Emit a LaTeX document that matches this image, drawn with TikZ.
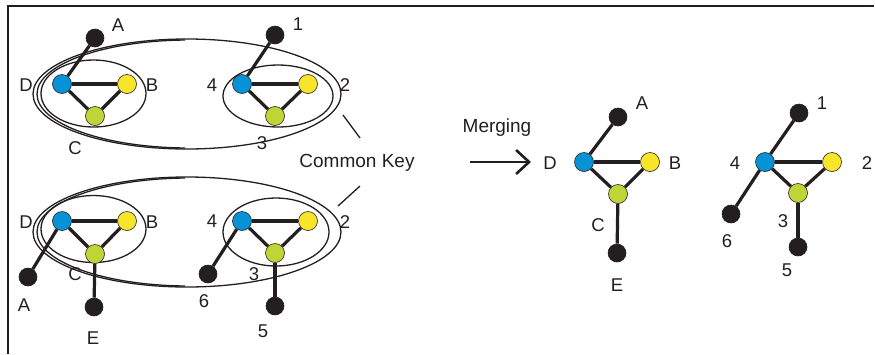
\documentclass[tikz,border=0pt]{standalone}
\usepackage{fontspec}
\setmainfont{Liberation Sans}
\usetikzlibrary{arrows.meta}
\definecolor{vblue}{HTML}{0892D6}
\definecolor{vyellow}{HTML}{F7E52B}
\definecolor{vgreen}{HTML}{BDD536}
\definecolor{vdark}{HTML}{231F20}
\tikzset{
  vtx/.style={circle, draw=vdark, line width=0.6pt, inner sep=0pt, minimum size=19pt},
  bv/.style={vtx, fill=vblue},
  yv/.style={vtx, fill=vyellow},
  gv/.style={vtx, fill=vgreen},
  kv/.style={vtx, fill=vdark, minimum size=18pt},
  edge/.style={draw=vdark, line width=3.2pt},
  ring/.style={draw=vdark, line width=1.3pt},
  lbl/.style={font=\fontsize{18.5}{18.5}\selectfont, text=vdark, inner sep=0pt},
  word/.style={font=\fontsize{19}{19}\selectfont, text=vdark, inner sep=0pt},
  leader/.style={draw=vdark, line width=1.3pt}
}
\begin{document}
\begin{tikzpicture}[x=1pt,y=-1pt]
\useasboundingbox (0,0) rectangle (875,354);
% frame
\draw[vdark, line width=1.5pt] (8,354) -- (8,6) -- (874,6);

% ---------- upper pair of groups ----------
\draw[ring] (187,94) ellipse [x radius=154pt, y radius=55pt];
\begin{scope}
  \clip (0,0) rectangle (185,354);
  \draw[ring] (189,94) ellipse [x radius=152pt, y radius=54pt];
\end{scope}
\draw[ring] (93.5,93.5) ellipse [x radius=52.5pt, y radius=33.5pt];
\draw[ring] (278,96) ellipse [x radius=55pt, y radius=31pt];

\node[bv] (uD) at (62,84) {};
\node[yv] (uB) at (127,84) {};
\node[gv] (uC) at (95,116) {};
\node[kv] (uA) at (95,38) {};
\draw[edge] (uD) -- (uA);
\draw[edge] (uD) -- (uB);
\draw[edge] (uD) -- (uC);
\draw[edge] (uB) -- (uC);
\node[lbl] (luA) at (118,25) {A};
\node[lbl] (luD) at (26,85) {D};
\node[lbl] (luB) at (152,85) {B};
\node[lbl] (luC) at (75,148) {C};

\node[bv] (u4) at (242,84) {};
\node[yv] (u2) at (308,84) {};
\node[gv] (u3) at (275,116) {};
\node[kv] (u1) at (275,35) {};
\draw[edge] (u4) -- (u1);
\draw[edge] (u4) -- (u2);
\draw[edge] (u4) -- (u3);
\draw[edge] (u2) -- (u3);
\node[lbl] (lu1) at (298,24) {1};
\node[lbl] (lu4) at (212,85) {4};
\node[lbl] (lu2) at (345,85) {2};
\node[lbl] (lu3) at (262,143) {3};

% ---------- lower pair of groups ----------
\draw[ring] (187,232) ellipse [x radius=154pt, y radius=55pt];
\begin{scope}
  \clip (0,0) rectangle (185,354);
  \draw[ring] (189,232) ellipse [x radius=152pt, y radius=54pt];
\end{scope}
\draw[ring] (93.5,229) ellipse [x radius=52.5pt, y radius=33.5pt];
\draw[ring] (276,232) ellipse [x radius=53pt, y radius=34pt];

\node[bv] (dD) at (62,221) {};
\node[yv] (dB) at (127,221) {};
\node[gv] (dC) at (95,254) {};
\node[kv] (dA) at (28,277) {};
\node[kv] (dE) at (94,307) {};
\draw[edge] (dD) -- (dA);
\draw[edge] (dD) -- (dB);
\draw[edge] (dD) -- (dC);
\draw[edge] (dB) -- (dC);
\draw[edge] (dC) -- (dE);
\node[lbl] (ldD) at (26,222) {D};
\node[lbl] (ldB) at (152,222) {B};
\node[lbl] (ldC) at (75,274) {C};
\node[lbl] (ldA) at (24,305) {A};
\node[lbl] (ldE) at (93,338) {E};

\node[bv] (d4) at (242,221) {};
\node[yv] (d2) at (308,221) {};
\node[gv] (d3) at (275,253) {};
\node[kv] (d6) at (208,274) {};
\node[kv] (d5) at (275,306) {};
\draw[edge] (d4) -- (d6);
\draw[edge] (d4) -- (d2);
\draw[edge] (d4) -- (d3);
\draw[edge] (d2) -- (d3);
\draw[edge] (d3) -- (d5);
\node[lbl] (ld4) at (212,221) {4};
\node[lbl] (ld2) at (345,222) {2};
\node[lbl] (ld3) at (254,274) {3};
\node[lbl] (ld6) at (204,301) {6};
\node[lbl] (ld5) at (263,331) {5};

% ---------- common key callout ----------
\node[word] (key) at (357,163) {Common Key};
\coordinate (kt1) at (343,115);
\coordinate (kt2) at (360,138);
\coordinate (kb1) at (338,206);
\coordinate (kb2) at (360,186);
\draw[leader] (kt1) -- (kt2);
\draw[leader] (kb1) -- (kb2);

% ---------- merging arrow ----------
\node[word] (merge) at (497,128) {Merging};
\coordinate (ar0) at (470,162);
\coordinate (ar1) at (531,162);
\draw[draw=vdark, line width=2.6pt, -{Straight Barb[length=13pt,width=24pt,line width=2.6pt]}] (ar0) -- (ar1);

% ---------- merged graph, letters ----------
\node[bv] (mD) at (584,162) {};
\node[yv] (mB) at (650,162) {};
\node[gv] (mC) at (618,194) {};
\node[kv] (mA) at (618,117) {};
\node[kv] (mE) at (617,253) {};
\draw[edge] (mD) -- (mA);
\draw[edge] (mD) -- (mB);
\draw[edge] (mD) -- (mC);
\draw[edge] (mB) -- (mC);
\draw[edge] (mC) -- (mE);
\node[lbl] (lmD) at (550,163) {D};
\node[lbl] (lmB) at (675,163) {B};
\node[lbl] (lmC) at (598,225) {C};
\node[lbl] (lmA) at (642,103) {A};
\node[lbl] (lmE) at (617,285) {E};

% ---------- merged graph, digits ----------
\node[bv] (m4) at (765,162) {};
\node[yv] (m2) at (832,162) {};
\node[gv] (m3) at (798,193) {};
\node[kv] (m1) at (799,113) {};
\node[kv] (m6) at (731,214) {};
\node[kv] (m5) at (798,247) {};
\draw[edge] (m4) -- (m1);
\draw[edge] (m4) -- (m2);
\draw[edge] (m4) -- (m3);
\draw[edge] (m2) -- (m3);
\draw[edge] (m4) -- (m6);
\draw[edge] (m3) -- (m5);
\node[lbl] (lm1) at (822,103) {1};
\node[lbl] (lm4) at (735,163) {4};
\node[lbl] (lm2) at (867,163) {2};
\node[lbl] (lm3) at (783,221) {3};
\node[lbl] (lm6) at (727,241) {6};
\node[lbl] (lm5) at (787,270) {5};
\end{tikzpicture}
\end{document}
